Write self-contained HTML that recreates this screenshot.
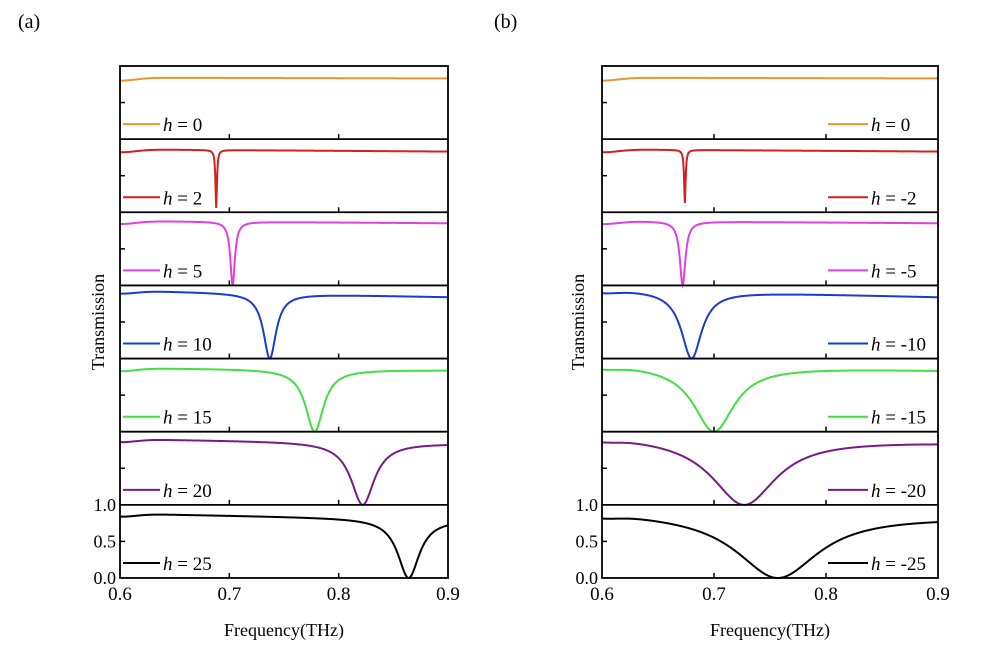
<!DOCTYPE html><html><head><style>body{margin:0;background:#fff}svg text{font-family:"Liberation Serif",serif}</style></head><body>
<svg id="s" width="982" height="642" xmlns="http://www.w3.org/2000/svg"></svg>
<script>
(function(){
const S=document.getElementById('s');let h='';
h+='<text x="18" y="28" font-size="20">(a)</text><text x="494" y="28" font-size="20">(b)</text>';
const T0=66,sh=73.14;
function panel(L,R,data,legRight,labX){
 const X=f=>L+(f-0.6)/0.3*(R-L);
 for(let i=0;i<7;i++){
  const y0=T0+i*sh,d=data[i];let p='';
  for(let k=0;k<=600;k++){const f=0.6+0.3*k/600;
   const base=d.b0+(d.b1-d.b0)*(f-0.6)/0.3 - 0.04*Math.exp(-Math.pow((f-0.6)/0.02,2));
   const q=(f-d.x0)*(f-d.x0);const t=d.w>0?base*(1-d.dep*d.w*d.w/(q+d.w*d.w)):base;
   p+=(k?'L':'M')+X(f).toFixed(2)+' '+(y0+sh*(1-t)).toFixed(2);}
  h+=`<path d="${p}" fill="none" stroke="${d.c}" stroke-width="2"/>`;
  const ly=y0+sh-15;
  if(legRight){h+=`<line x1="828" x2="868" y1="${ly}" y2="${ly}" stroke="${d.c}" stroke-width="2"/><text x="871" y="${ly+7}" font-size="19"><tspan font-style="italic">h</tspan> = ${d.l}</text>`;}
  else{h+=`<line x1="${L+3}" x2="${L+40}" y1="${ly}" y2="${ly}" stroke="${d.c}" stroke-width="2"/><text x="${L+43}" y="${ly+7}" font-size="19"><tspan font-style="italic">h</tspan> = ${d.l}</text>`;}
  const yb=y0+sh;
  h+=`<line x1="${L}" x2="${L+5}" y1="${y0+sh/2}" y2="${y0+sh/2}" stroke="#000" stroke-width="1.5"/>`;
  [0.7,0.8].forEach(f=>h+=`<line x1="${X(f)}" x2="${X(f)}" y1="${yb}" y2="${yb-5}" stroke="#000" stroke-width="1.5"/>`);
  if(i<6)h+=`<line x1="${L}" x2="${R}" y1="${yb}" y2="${yb}" stroke="#000" stroke-width="1.8"/>`;
 }
 h+=`<rect x="${L}" y="${T0}" width="${R-L}" height="${sh*7}" fill="none" stroke="#000" stroke-width="1.8"/>`;
 const yb=T0+7*sh;
 [['1.0',yb-sh],['0.5',yb-sh/2],['0.0',yb]].forEach(a=>h+=`<text x="${L-4}" y="${a[1]+6}" font-size="18" text-anchor="end">${a[0]}</text>`);
 [0.6,0.7,0.8,0.9].forEach(f=>h+=`<text x="${X(f)}" y="${yb+22}" font-size="19" text-anchor="middle">${f.toFixed(1)}</text>`);
 h+=`<text x="${(L+R)/2}" y="636" font-size="18" text-anchor="middle">Frequency(THz)</text>`;
 h+=`<text transform="translate(${labX},322) rotate(-90)" font-size="18" text-anchor="middle">Transmission</text>`;
}
const C=['#e8962e','#d42020','#e040e0','#1a3ccc','#40e040','#7a1a8a','#000'];
const A=[[0.84,0.83,0.7,0,0],[0.86,0.83,0.688,0.0008,0.93],[0.88,0.85,0.703,0.0025,1],[0.93,0.84,0.737,0.007,1],[0.87,0.84,0.778,0.01,1],[0.9,0.84,0.822,0.013,1],[0.88,0.8,0.864,0.012,1]];
const B=[[0.84,0.83,0.7,0,0],[0.86,0.83,0.674,0.0008,0.85],[0.88,0.85,0.672,0.003,1],[0.95,0.84,0.680,0.011,1],[0.93,0.84,0.700,0.022,1],[0.96,0.86,0.727,0.035,1],[0.92,0.84,0.757,0.045,1]];
const la=['0','2','5','10','15','20','25'],lb=['0','-2','-5','-10','-15','-20','-25'];
panel(120,448,A.map((a,i)=>({b0:a[0],b1:a[1],x0:a[2],w:a[3],dep:a[4],c:C[i],l:la[i]})),false,104);
panel(602,938,B.map((a,i)=>({b0:a[0],b1:a[1],x0:a[2],w:a[3],dep:a[4],c:C[i],l:lb[i]})),true,584);
S.innerHTML=h;
})();
</script></body></html>
